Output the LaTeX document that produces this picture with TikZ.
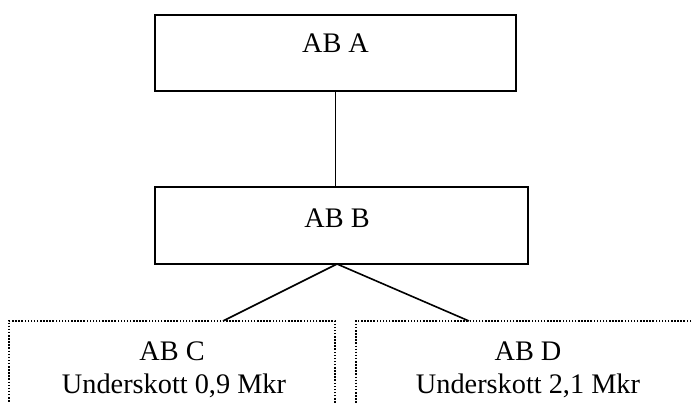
\documentclass[tikz,border=0pt]{standalone}
\usepackage{fontspec}
\setmainfont{Liberation Serif}
\begin{document}
\begin{tikzpicture}[x=1pt,y=-1pt,
  solidbox/.style={draw=black,line width=1.6pt,rectangle,inner sep=0pt},
  dotbox/.style={draw=black,line width=1.6pt,dash pattern=on 1.5pt off 1.6pt,rectangle,inner sep=0pt},
  lbl/.style={anchor=base,inner sep=0pt,font=\fontsize{28.3}{33}\selectfont},
  link/.style={line width=1.6pt}]
\clip (0,0) rectangle (692,403);
\fill[white] (0,0) rectangle (692,403);
% company boxes
\node[solidbox,minimum width=361pt,minimum height=76pt] (A) at (335.5,53) {};
\node[solidbox,minimum width=373pt,minimum height=77pt] (B) at (341.5,225.5) {};
\node[dotbox,minimum width=326pt,minimum height=140pt] (C) at (172,391) {};
\node[dotbox,minimum width=344pt,minimum height=140pt] (D) at (528,391) {};
% labels
\node[lbl] (tA) at (335.5,53) {AB A};
\node[lbl] (tB) at (337,227) {AB B};
\node[lbl] (tC1) at (172,360) {AB C};
\node[lbl] (tC2) at (174,393) {Underskott 0,9 Mkr};
\node[lbl] (tD1) at (528,360) {AB D};
\node[lbl] (tD2) at (528,393) {Underskott 2,1 Mkr};
% connectors
\coordinate (apex) at (337,264);
\coordinate (cin) at (223,321);
\coordinate (din) at (469,321);
\draw[link] (A.south) -- (A.south |- B.north);
\draw[link] (cin) -- (apex) -- (din);
\end{tikzpicture}
\end{document}
